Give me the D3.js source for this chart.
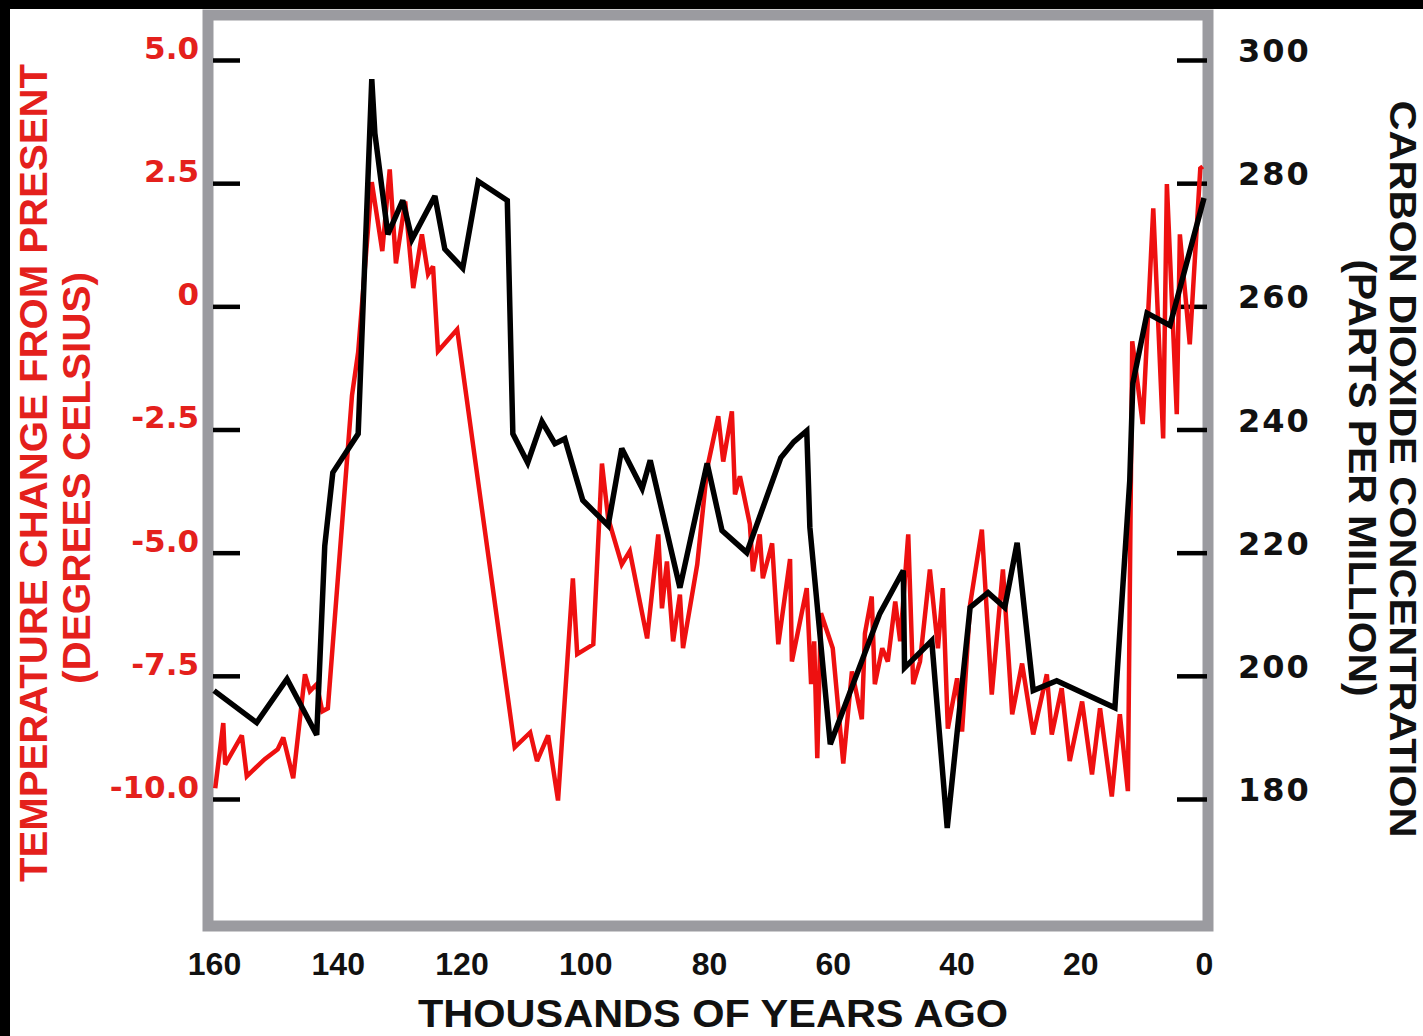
<!DOCTYPE html>
<html>
<head>
<meta charset="utf-8">
<script src="https://cdn.jsdelivr.net/npm/d3@7"></script>
<style>
	body { margin: 0; background: #fff; }
	svg { display: block; }
	.tick text { font-weight: bold; }
</style>
</head>
<body>
<svg id="chart" width="1423" height="1036"></svg>
<script>
'use strict';

var RED = "#ee1010";
var LABEL_RED = "#e4201c";
var FRAME_GRAY = "#9b9ba0";

// temperature record (thousands of years ago, degrees C from present)
var tempAge = [159.8, 158.5, 158.2, 155.5, 154.7, 151.8, 149.7, 148.8, 147.2, 145.3,
	144.5, 143.4, 142.5, 141.6, 137.7, 136.7, 134.5, 132.8, 131.6, 130.6,
	129.1, 127.8, 126.4, 125.4, 124.6, 123.8, 120.7, 111.4, 108.9, 107.8,
	106.0, 104.4, 102.0, 101.3, 98.7, 97.3, 96.3, 94.1, 92.8, 90.0,
	88.2, 87.6, 86.8, 85.8, 84.7, 84.2, 81.9, 80.3, 78.5, 77.7,
	76.3, 75.8, 75.0, 73.4, 72.9, 71.8, 71.3, 69.8, 68.8, 66.9,
	66.6, 64.2, 63.5, 63.0, 62.5, 61.9, 60.0, 58.3, 56.9, 55.3,
	54.8, 53.7, 53.2, 52.0, 51.1, 49.9, 49.1, 47.8, 47.0, 45.9,
	44.3, 43.0, 42.2, 41.4, 39.9, 39.1, 37.8, 35.9, 34.3, 32.5,
	31.0, 29.4, 27.6, 25.4, 24.6, 23.0, 21.7, 19.7, 18.1, 16.8,
	14.9, 13.6, 12.3, 11.6, 9.9, 8.2, 6.6, 6.0, 4.4, 3.9,
	2.3, 0.6, 0.2];
var tempVal = [-9.78, -8.46, -9.30, -8.71, -9.54, -9.19, -8.99, -8.75, -9.58, -7.47,
	-7.81, -7.67, -8.22, -8.16, -1.81, -0.93, 2.52, 1.12, 2.78, 0.87,
	2.13, 0.37, 1.46, 0.65, 0.81, -0.91, -0.47, -8.95, -8.65, -9.23,
	-8.71, -10.03, -5.52, -7.06, -6.86, -3.19, -4.30, -5.24, -4.97, -6.74,
	-4.63, -6.13, -5.18, -6.80, -5.85, -6.94, -5.24, -3.29, -2.23, -3.15,
	-2.13, -3.82, -3.45, -4.42, -5.38, -4.63, -5.52, -4.81, -6.86, -5.13,
	-7.21, -5.72, -7.67, -6.80, -9.17, -6.23, -6.94, -9.28, -7.41, -8.38,
	-6.64, -5.89, -7.67, -6.94, -7.21, -5.99, -6.80, -4.63, -7.67, -7.21,
	-5.34, -6.94, -5.72, -8.57, -7.55, -8.63, -6.05, -4.53, -7.88, -5.34,
	-8.28, -7.25, -8.69, -7.47, -8.69, -7.75, -9.23, -8.02, -9.50, -8.16,
	-9.95, -8.28, -9.84, -0.71, -2.39, 1.99, -2.68, 2.48, -2.19, 1.46,
	-0.77, 2.80, 2.84];

// carbon dioxide record (thousands of years ago, ppm)
var co2Age = [160, 153.1, 148.2, 143.4, 142.1, 140.8, 136.7, 134.5, 134.0, 131.9,
	129.5, 128.0, 124.3, 122.7, 119.8, 117.3, 112.6, 111.7, 109.3, 107.0,
	104.9, 103.3, 100.4, 96.3, 94.1, 90.8, 89.5, 84.7, 80.3, 77.9,
	73.9, 68.4, 66.3, 64.2, 63.7, 60.4, 52.4, 48.6, 48.4, 44.0,
	41.5, 37.8, 34.9, 32.2, 30.2, 27.6, 23.8, 14.4, 12.0, 11.5,
	9.2, 5.5, 0];
var co2Val = [197.6, 192.4, 199.5, 190.4, 221.1, 233.0, 239.3, 296.9, 288.1, 271.7,
	277.2, 270.9, 277.9, 269.3, 266.2, 280.3, 277.2, 239.3, 234.6, 241.3,
	237.7, 238.5, 228.5, 224.4, 236.9, 230.4, 235.0, 214.3, 234.5, 223.6,
	220.0, 235.4, 238.0, 239.8, 224.1, 188.9, 210.1, 217.1, 201.3, 205.7,
	175.3, 211.1, 213.5, 211.1, 221.6, 197.6, 199.2, 194.8, 231.7, 247.5,
	258.9, 256.9, 277.6];

var ageTicks = [160, 140, 120, 100, 80, 60, 40, 20, 0];
var tempTicks = [5, 2.5, 0, -2.5, -5, -7.5, -10];
var tempTickLabels = ["5.0", "2.5", "0", "-2.5", "-5.0", "-7.5", "-10.0"];
var co2Ticks = [300, 280, 260, 240, 220, 200, 180];

function zip(a, b) {
	return a.map(function (d, i) { return [d, b[i]]; });
}

var svg = d3.select("#chart");

// black strips along the top and left edges of the scan
svg.append("rect").attr("width", 1423).attr("height", 1036).attr("fill", "#fff");
svg.append("rect").attr("width", 1423).attr("height", 9).attr("fill", "#000");
svg.append("rect").attr("width", 10).attr("height", 1036).attr("fill", "#000");

var x = d3.scaleLinear().domain([160, 0]).range([214, 1204]);
var yTemp = d3.scaleLinear().domain([-10, 5]).range([799, 60]);
var yCo2 = d3.scaleLinear().domain([180, 300]).range([799, 60]);

svg.append("rect")
	.attr("x", 208)
	.attr("y", 15)
	.attr("width", 1000)
	.attr("height", 911)
	.attr("fill", "none")
	.attr("stroke", FRAME_GRAY)
	.attr("stroke-width", 11);

// left axis (temperature)
var left = svg.append("g")
	.attr("transform", "translate(240,0)")
	.call(d3.axisLeft(yTemp)
		.tickValues(tempTicks)
		.tickSize(27)
		.tickPadding(14)
		.tickFormat(function (d, i) { return tempTickLabels[i]; }));
left.select(".domain").remove();
left.selectAll(".tick line").attr("stroke", "#000").attr("stroke-width", 4.5);
left.selectAll(".tick text")
	.attr("dy", "-0.05em")
	.attr("fill", LABEL_RED)
	.style("font-family", "'DejaVu Sans', sans-serif")
	.style("font-size", "31px");

// right axis (carbon dioxide)
var right = svg.append("g")
	.attr("transform", "translate(1177,0)")
	.call(d3.axisRight(yCo2)
		.tickValues(co2Ticks)
		.tickSize(30)
		.tickPadding(31));
right.select(".domain").remove();
right.selectAll(".tick line").attr("stroke", "#000").attr("stroke-width", 4.5);
right.selectAll(".tick text")
	.attr("dy", "0.05em")
	.attr("fill", "#111")
	.style("font-family", "'DejaVu Sans', sans-serif")
	.style("font-size", "32px")
	.style("letter-spacing", "2px");

// bottom axis (age)
var bottom = svg.append("g")
	.attr("transform", "translate(0,932)")
	.call(d3.axisBottom(x)
		.tickValues(ageTicks)
		.tickSize(0)
		.tickPadding(20)
		.tickFormat(d3.format("d")));
bottom.select(".domain").remove();
bottom.selectAll(".tick text")
	.attr("fill", "#111")
	.style("font-family", "'Liberation Sans', Arial, sans-serif")
	.style("font-size", "32px");

// series
var tempLine = d3.line()
	.x(function (d) { return x(d[0]); })
	.y(function (d) { return yTemp(d[1]); });

var co2Line = d3.line()
	.x(function (d) { return x(d[0]); })
	.y(function (d) { return yCo2(d[1]); });

svg.append("path")
	.datum(zip(tempAge, tempVal))
	.attr("d", tempLine)
	.attr("fill", "none")
	.attr("stroke", RED)
	.attr("stroke-width", 4.5)
	.attr("stroke-linejoin", "miter")
	.attr("stroke-miterlimit", 3);

svg.append("path")
	.datum(zip(co2Age, co2Val))
	.attr("d", co2Line)
	.attr("fill", "none")
	.attr("stroke", "#000")
	.attr("stroke-width", 5.5)
	.attr("stroke-linejoin", "miter")
	.attr("stroke-miterlimit", 3);

// titles
function title(txt, tx, ty, rot, len, size, color) {
	svg.append("text")
		.attr("transform", "translate(" + tx + "," + ty + ") rotate(" + rot + ")")
		.attr("text-anchor", "middle")
		.attr("textLength", len)
		.attr("lengthAdjust", "spacingAndGlyphs")
		.attr("fill", color)
		.style("font-family", "'Liberation Sans', Arial, sans-serif")
		.style("font-weight", "bold")
		.style("font-size", size + "px")
		.text(txt);
}

title("TEMPERATURE CHANGE FROM PRESENT", 47, 473, -90, 818, 39, LABEL_RED);
title("(DEGREES CELSIUS)", 90, 478, -90, 412, 39, LABEL_RED);
title("CARBON DIOXIDE CONCENTRATION", 1390, 469, 90, 737, 37, "#111");
title("(PARTS PER MILLION)", 1349, 478, 90, 437, 38, "#111");
title("THOUSANDS OF YEARS AGO", 713, 1027, 0, 590, 38, "#111");
</script>
</body>
</html>
